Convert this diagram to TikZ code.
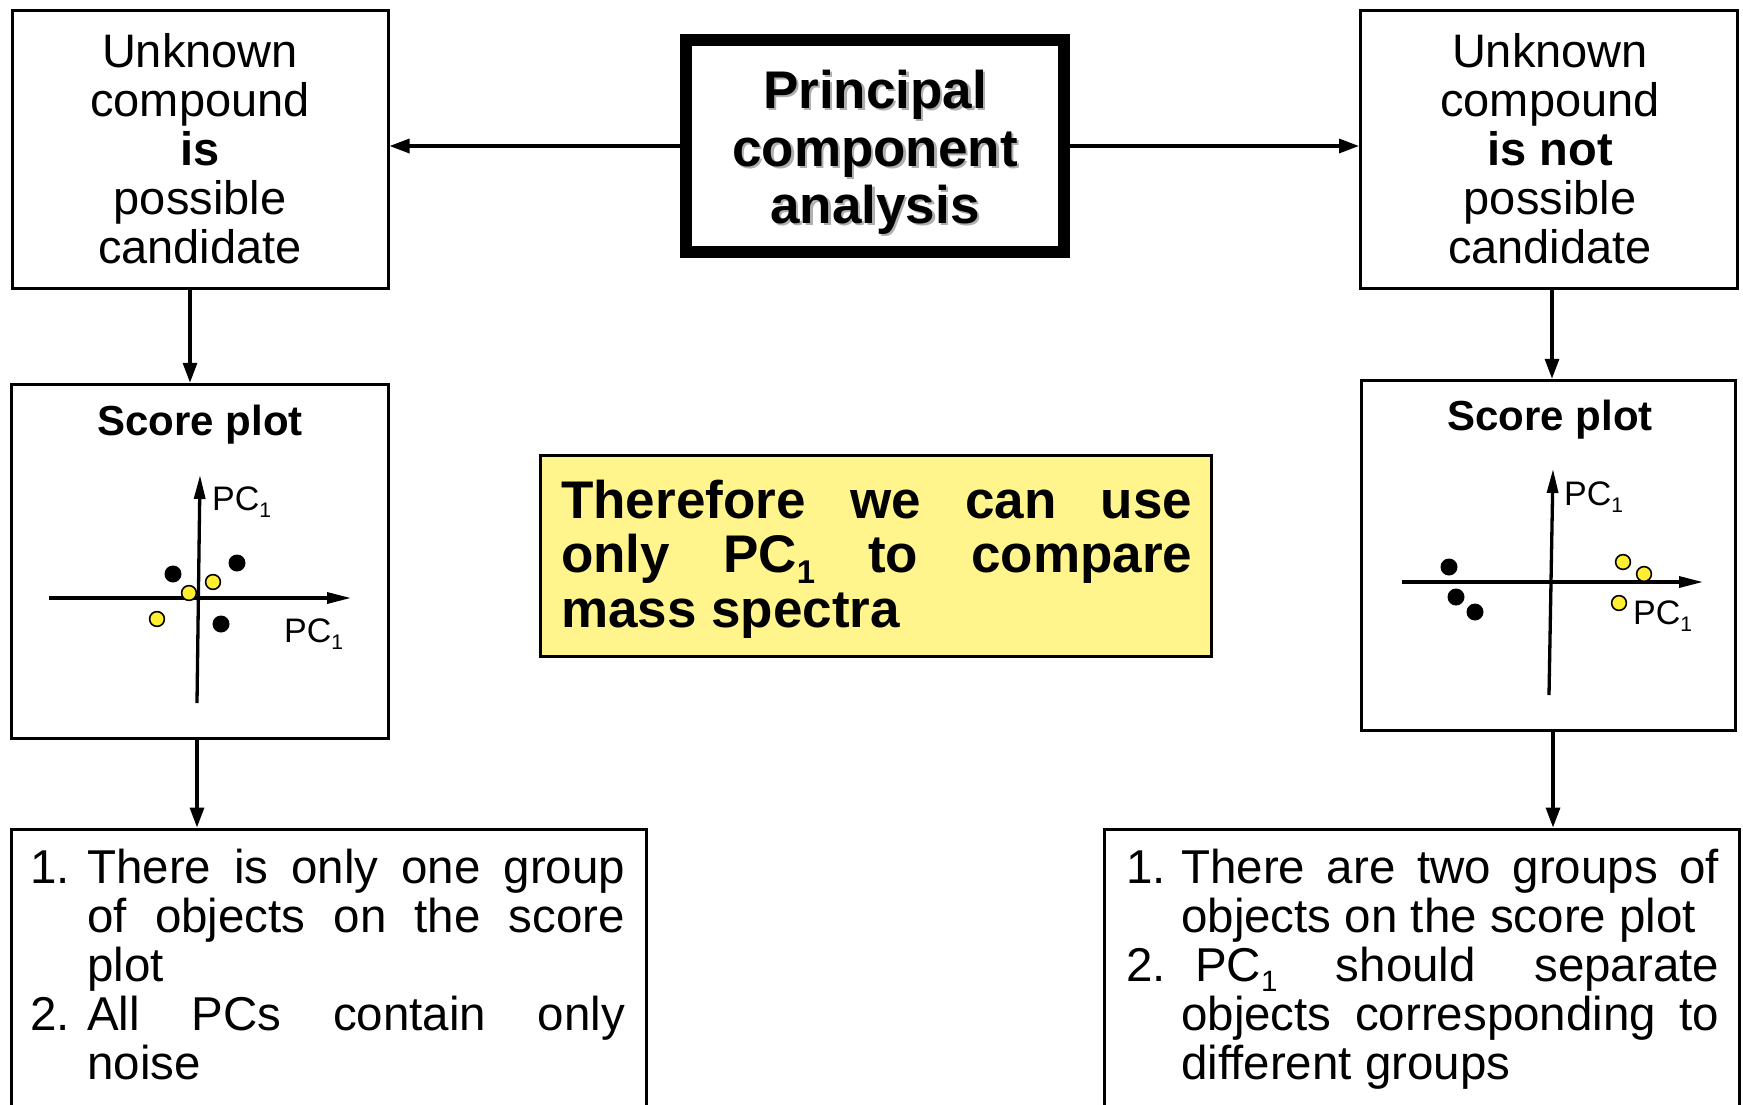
\documentclass[tikz,border=0pt]{standalone}
\usepackage{fontspec}
\setmainfont{Liberation Sans}
\usepackage{graphicx}
\usetikzlibrary{arrows.meta}
\definecolor{boxyellow}{RGB}{255,245,140}
\definecolor{dotyellow}{RGB}{255,238,50}
\definecolor{shadowgray}{RGB}{175,175,175}
\newcommand{\pcsub}[1]{\raisebox{-0.22em}{\scalebox{0.62}{#1}}}
\newcommand{\fsz}[2]{\fontsize{#1}{#2}\selectfont}
\begin{document}
\begin{tikzpicture}[x=1pt,y=-1pt,
  box/.style={draw, line width=3pt, inner sep=0pt},
  txt/.style={inner sep=0pt, anchor=base},
  txtl/.style={inner sep=0pt, anchor=base west},
  toptext/.style={txt, font=\fsz{47}{49}},
  pcatext/.style={txt, font=\fsz{53}{58}\bfseries},
  titletext/.style={txt, font=\fsz{42}{46}\bfseries},
  yeltext/.style={txtl, font=\fsz{53}{55}\bfseries},
  bottext/.style={txtl, font=\fsz{47.5}{49}},
  pclabel/.style={txtl, font=\fsz{34}{36}},
  conn/.style={line width=3.3pt, -{Triangle[length=20pt,width=14pt]}},
  axis/.style={line width=3.3pt, -{Triangle[length=24pt,width=11pt]}},
  bdot/.style={fill=black, draw=none},
  ydot/.style={fill=dotyellow, draw=black, line width=1.6pt}
]
\useasboundingbox (0,0) rectangle (1743,1104);
\clip (0,0) rectangle (1743,1104);

% boxes
\node[box, minimum width=376pt, minimum height=278pt] (tl) at (200,149.5) {};
\node[box, minimum width=377pt, minimum height=278pt] (tr) at (1549,149.5) {};
\node[draw, line width=12pt, inner sep=0pt, minimum width=378pt, minimum height=212pt] (pca) at (875,146) {};
\node[box, line width=3.5pt, minimum width=377pt, minimum height=354pt] (sl) at (200,561.5) {};
\node[box, line width=3.5pt, minimum width=374pt, minimum height=350pt] (sr) at (1548.5,555.5) {};
\node[box, fill=boxyellow, minimum width=671pt, minimum height=201pt] (yb) at (876,556) {};
\node[box, anchor=north, minimum width=635pt, minimum height=330pt] (bl) at (328.5,827.5) {};
\node[box, anchor=north, minimum width=635pt, minimum height=330pt] (br) at (1421.5,827.5) {};

% connectors
\draw[conn] (pca.west) -- (pca.west -| tl.east);
\draw[conn] (pca.east) -- (pca.east -| tr.west);
\draw[conn] ([xshift=-10pt]tl.south) -- ([xshift=-10pt]tl.south |- sl.north);
\draw[conn] ([xshift=3pt]tr.south) -- ([xshift=3pt]tr.south |- sr.north);
\draw[conn] ([xshift=-3pt]sl.south) -- ([xshift=-3pt]sl.south |- bl.north);
\draw[conn] ([xshift=4.5pt]sr.south) -- ([xshift=4.5pt]sr.south |- br.north);

% top-left text
\node[toptext] (tl1) at (200,67) {Unknown};
\node[toptext] (tl2) at (200,116) {compound};
\node[toptext, font=\fsz{47}{49}\bfseries] (tl3) at (200,165) {is};
\node[toptext] (tl4) at (200,214) {possible};
\node[toptext] (tl5) at (200,263) {candidate};
% top-right text
\node[toptext] (tr1) at (1550,67) {Unknown};
\node[toptext] (tr2) at (1550,116) {compound};
\node[toptext, font=\fsz{47}{49}\bfseries] (tr3) at (1550,165) {is not};
\node[toptext] (tr4) at (1550,214) {possible};
\node[toptext] (tr5) at (1550,263) {candidate};

% PCA text with shadow
\node[pcatext, text=shadowgray] (pcas1) at (877.5,110.5) {Principal};
\node[pcatext, text=shadowgray] (pcas2) at (877.5,168.5) {component};
\node[pcatext, text=shadowgray] (pcas3) at (877.5,225.5) {analysis};
\node[pcatext] (pca1) at (875,108) {Principal};
\node[pcatext] (pca2) at (875,166) {component};
\node[pcatext] (pca3) at (875,223) {analysis};

% score plot titles
\node[titletext] (slt) at (200,435) {Score plot};
\node[titletext] (srt) at (1550,430) {Score plot};

% left score plot
\coordinate (lvb) at (197,703);
\coordinate (lvt) at (200,475);
\coordinate (lhl) at (49,598);
\coordinate (lhr) at (351,598);
\draw[axis] (lvb) -- (lvt);
\draw[axis] (lhl) -- (lhr);
\node[pclabel] (lpc1) at (212,510) {PC\pcsub{1}};
\node[pclabel] (lpc2) at (284,642) {PC\pcsub{1}};
\fill[bdot] (173,574) circle (8.5);
\fill[bdot] (237,563) circle (8.5);
\fill[bdot] (221,624) circle (8.5);
\filldraw[ydot] (213,582) circle (7.4);
\filldraw[ydot] (189,593) circle (7.4);
\filldraw[ydot] (157,619) circle (7.4);

% right score plot
\coordinate (rvb) at (1549,695);
\coordinate (rvt) at (1553,469);
\coordinate (rhl) at (1402,582);
\coordinate (rhr) at (1703,582);
\draw[axis] (rvb) -- (rvt);
\draw[axis] (rhl) -- (rhr);
\node[pclabel] (rpc1) at (1564,505) {PC\pcsub{1}};
\node[pclabel] (rpc2) at (1633,624) {PC\pcsub{1}};
\fill[bdot] (1449,567) circle (8.5);
\fill[bdot] (1456,597) circle (8.5);
\fill[bdot] (1475,612) circle (8.5);
\filldraw[ydot] (1623,562) circle (7.4);
\filldraw[ydot] (1644,574) circle (7.4);
\filldraw[ydot] (1619,603) circle (7.4);

% yellow box text
\node[yeltext] (y1) at (561,518) {\makebox[631pt][s]{Therefore we can use}};
\node[yeltext] (y2) at (561,572) {\makebox[631pt][s]{only PC\pcsub{1} to compare}};
\node[yeltext] (y3) at (561,627) {mass spectra};

% bottom-left text
\node[bottext] (bl1n) at (30,883) {1.};
\node[bottext] (bl1) at (87,883) {\makebox[538pt][s]{There is only one group}};
\node[bottext] (bl2) at (87,932) {\makebox[538pt][s]{of objects on the score}};
\node[bottext] (bl3) at (87,981) {plot};
\node[bottext] (bl4n) at (30,1030) {2.};
\node[bottext] (bl4) at (87,1030) {\makebox[538pt][s]{All PCs contain only}};
\node[bottext] (bl5) at (87,1079) {noise};

% bottom-right text
\node[bottext] (br1n) at (1126,883) {1.};
\node[bottext] (br1) at (1181,883) {\makebox[538pt][s]{There are two groups of}};
\node[bottext] (br2) at (1181,932) {objects on the score plot};
\node[bottext] (br3n) at (1126,981) {2.};
\node[bottext] (br3) at (1195,981) {\makebox[524pt][s]{PC\pcsub{1} should separate}};
\node[bottext] (br4) at (1181,1030) {\makebox[538pt][s]{objects corresponding to}};
\node[bottext] (br5) at (1181,1079) {different groups};
\end{tikzpicture}
\end{document}
